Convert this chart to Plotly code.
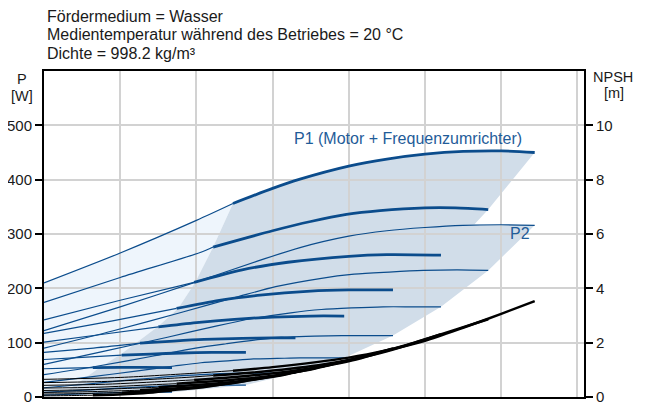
import plotly.graph_objects as go

# ---------------- text ----------------
title_lines = ["Fördermedium = Wasser",
               "Medientemperatur während des Betriebes = 20 °C",
               "Dichte = 998.2 kg/m³"]
p_ticks = [0, 100, 200, 300, 400, 500]
npsh_ticks = [0, 2, 4, 6, 8, 10]

# thick (operating range) start per speed curve: 100%,90%,80%,70%,60%,50%,40%,min
thick_start = [2.48, 2.22, 1.97, 1.74, 1.50, 1.26, 1.02, 0.64]

# ---------------- P1 curves (Motor + Frequenzumrichter) [W] ----------------
p1_100_x = [0, 1, 2, 2.48, 3, 3.36, 4, 4.5, 5, 5.5, 6, 6.44]
p1_100_y = [210, 265, 325, 356, 384, 401, 425, 438, 447, 452, 453, 450]
p1_90_x = [0, 1, 2.05, 2.22, 3, 3.5, 3.97, 4.41, 5.0, 5.4, 5.83]
p1_90_y = [174, 220, 266, 276, 306, 323, 336, 343, 348, 348, 345]
p1_80_x = [0, 1, 1.97, 2.6, 3.2, 4.0, 4.5, 5.21]
p1_80_y = [142, 178, 211, 234, 248, 259, 262, 261]
p1_70_x = [0, 0.9, 1.74, 2.3, 2.8, 3.5, 4.0, 4.58]
p1_70_y = [117, 140, 163, 178, 187, 195, 197, 197]
p1_60_x = [0, 0.75, 1.50, 2.0, 2.5, 3.0, 3.5, 3.94]
p1_60_y = [101, 115, 129, 137, 143, 147, 149, 149]
p1_50_x = [0, 0.65, 1.26, 1.7, 2.1, 2.6, 3.0, 3.30]
p1_50_y = [82, 90, 99, 103, 106, 108, 109, 109]
p1_40_x = [0, 0.5, 1.02, 1.4, 1.8, 2.2, 2.65]
p1_40_y = [69, 73, 77, 79, 81, 82, 82]
p1_min_x = [0, 0.32, 0.64, 1.0, 1.3, 1.68]
p1_min_y = [52, 53, 54, 54.5, 54.5, 54]

# ---------------- P2 curves [W] ----------------
p2_100_x = [0, 1, 2, 2.8, 3.36, 4, 4.5, 5, 5.5, 6, 6.44]
p2_100_y = [122, 166, 212, 250, 275, 296, 306, 312, 316, 317, 316]
p2_90_x = [0, 0.91, 1.81, 2.53, 3.04, 3.62, 4.07, 4.53, 4.98, 5.43, 5.83]
p2_90_y = [90, 122, 156, 184, 203, 218, 226, 230, 233, 234, 233]
p2_80_x = [0, 0.81, 1.62, 2.27, 2.72, 3.24, 3.64, 4.04, 4.45, 4.86, 5.21]
p2_80_y = [60, 85, 110, 131, 144, 155, 161, 164, 166, 166, 166]
p2_70_x = [0, 0.71, 1.42, 1.99, 2.39, 2.84, 3.20, 3.55, 3.91, 4.27, 4.58]
p2_70_y = [41, 57, 75, 90, 98, 106, 110, 112, 113, 113, 113]
p2_60_x = [0, 0.61, 1.23, 1.71, 2.06, 2.45, 2.75, 3.06, 3.36, 3.67, 3.94]
p2_60_y = [27, 37, 48, 57, 63, 67, 70, 71, 72, 72, 72]
p2_50_x = [0, 0.51, 1.03, 1.44, 1.72, 2.05, 2.31, 2.56, 2.82, 3.08, 3.30]
p2_50_y = [17, 23, 30, 35, 38.5, 41, 43, 44, 44, 44, 44]
p2_40_x = [0, 0.41, 0.82, 1.15, 1.38, 1.65, 1.85, 2.06, 2.26, 2.47, 2.65]
p2_40_y = [8.5, 11.6, 15, 17.5, 19, 21, 21.5, 22, 22, 22, 22]
p2_min_x = [0, 0.26, 0.52, 0.73, 0.88, 1.04, 1.17, 1.30, 1.43, 1.57, 1.68]
p2_min_y = [3.4, 4.6, 5.9, 7, 7.7, 8.3, 8.6, 8.7, 8.8, 8.9, 8.8]

# ---------------- NPSH curves [m] ----------------
n_100_x = [0, 1, 2, 2.48, 3, 4, 4.5, 5, 5.5, 6, 6.44]
n_100_y = [0.65, 0.72, 0.88, 0.97, 1.10, 1.45, 1.72, 2.07, 2.55, 3.06, 3.53]
n_90_x = [0, 0.9, 1.8, 2.22, 2.7, 3.6, 4.05, 4.5, 4.95, 5.4, 5.83]
n_90_y = [0.53, 0.58, 0.71, 0.79, 0.89, 1.17, 1.39, 1.68, 2.07, 2.48, 2.86]
n_80_x = [0, 0.81, 1.62, 1.97, 2.43, 3.24, 3.64, 4.05, 4.45, 4.86, 5.21]
n_80_y = [0.43, 0.47, 0.58, 0.63, 0.72, 0.95, 1.12, 1.35, 1.67, 2.0, 2.31]
n_70_x = [0, 0.71, 1.42, 1.74, 2.13, 2.84, 3.20, 3.56, 3.91, 4.27, 4.58]
n_70_y = [0.33, 0.36, 0.45, 0.49, 0.56, 0.73, 0.87, 1.05, 1.29, 1.55, 1.79]
n_60_x = [0, 0.61, 1.22, 1.50, 1.84, 2.45, 2.75, 3.06, 3.37, 3.67, 3.94]
n_60_y = [0.24, 0.27, 0.33, 0.36, 0.41, 0.54, 0.64, 0.77, 0.95, 1.14, 1.32]
n_50_x = [0, 0.51, 1.02, 1.26, 1.54, 2.05, 2.31, 2.56, 2.82, 3.08, 3.30]
n_50_y = [0.17, 0.19, 0.23, 0.25, 0.29, 0.38, 0.45, 0.54, 0.67, 0.80, 0.92]
n_40_x = [0, 0.41, 0.82, 1.02, 1.23, 1.65, 1.85, 2.06, 2.26, 2.47, 2.65]
n_40_y = [0.11, 0.12, 0.15, 0.16, 0.19, 0.25, 0.29, 0.35, 0.43, 0.52, 0.60]
n_min_x = [0, 0.26, 0.52, 0.64, 0.78, 1.04, 1.17, 1.30, 1.43, 1.57, 1.68]
n_min_y = [0.044, 0.049, 0.06, 0.066, 0.075, 0.099, 0.117, 0.14, 0.17, 0.21, 0.24]

# ---------------- operating range boundary ----------------
edge_x = [0.2, 0.45, 0.69, 1.02, 1.26, 1.5, 1.76, 1.98, 2.22, 2.48]
edge_p = [2, 26, 50, 80, 105, 130, 163, 210, 276, 356]
notch_x, notch_p = 5.65, 318

p1_curves = [(p1_100_x, p1_100_y), (p1_90_x, p1_90_y), (p1_80_x, p1_80_y), (p1_70_x, p1_70_y),
             (p1_60_x, p1_60_y), (p1_50_x, p1_50_y), (p1_40_x, p1_40_y), (p1_min_x, p1_min_y)]
p2_curves = [(p2_100_x, p2_100_y), (p2_90_x, p2_90_y), (p2_80_x, p2_80_y), (p2_70_x, p2_70_y),
             (p2_60_x, p2_60_y), (p2_50_x, p2_50_y), (p2_40_x, p2_40_y), (p2_min_x, p2_min_y)]
n_curves = [(n_100_x, n_100_y), (n_90_x, n_90_y), (n_80_x, n_80_y), (n_70_x, n_70_y),
            (n_60_x, n_60_y), (n_50_x, n_50_y), (n_40_x, n_40_y), (n_min_x, n_min_y)]

BLUE = "#0b4c8c"
TXT_BLUE = "#1f5c99"
FONT = "Arial, 'Liberation Sans', sans-serif"

# page offset of the figure (default body margin of the html page)
OFF = 8
PL, PR, PT, PB = 44 - OFF, 584 - OFF, 71 - OFF, 397 - OFF  # plot area edges in figure px
W, H = 649, 403
PW, PH = PR - PL, PB - PT

fig = go.Figure()


def path(points):
    return "M " + " L ".join(f"{x},{y}" for x, y in points) + " Z"


# light region (left of operating range, under top P1 curve)
light = [(0, 0)]
light += [(x, y) for x, y in zip(p1_100_x, p1_100_y) if x <= thick_start[0]]
light += list(zip(edge_x, edge_p))[::-1][1:]
light += [(edge_x[0], 0)]

# dark region (operating range P1 and P2)
dark = list(zip(edge_x, edge_p))
dark += [(x, y) for x, y in zip(p1_100_x, p1_100_y) if x > thick_start[0]]
dark += [(p1_90_x[-1], p1_90_y[-1]), (notch_x, notch_p)]
dark += [(x, y) for x, y in zip(p2_100_x, p2_100_y) if x > notch_x]
for cx, cy in p2_curves[1:]:
    dark.append((cx[-1], cy[-1]))
dark += [(x, y) for x, y in zip(p2_min_x, p2_min_y) if 0 < x < p2_min_x[-1]][::-1]

shapes = [
    dict(type="path", path=path(light), xref="x", yref="y", layer="below",
         fillcolor="#eef5fc", line=dict(width=0)),
    dict(type="path", path=path(dark), xref="x", yref="y", layer="below",
         fillcolor="#d1dde9", line=dict(width=0)),
]


def add_split(x, y, xs, color, w_thin, w_thick, yaxis="y"):
    tx = [a for a in x if a <= xs]
    ty = [b for a, b in zip(x, y) if a <= xs]
    kx = [a for a in x if a >= xs]
    ky = [b for a, b in zip(x, y) if a >= xs]
    for xx, yy, w in ((tx, ty, w_thin), (kx, ky, w_thick)):
        fig.add_trace(go.Scatter(x=xx, y=yy, mode="lines", yaxis=yaxis,
                                 line=dict(color=color, width=w, shape="spline", smoothing=0.8),
                                 hoverinfo="skip", showlegend=False))


# NPSH curves (black)
for (cx, cy), xs in zip(n_curves, thick_start):
    add_split(cx, cy, xs, "#000000", 1.0, 2.5, yaxis="y2")

# P2 curves (thin blue)
for cx, cy in p2_curves:
    fig.add_trace(go.Scatter(x=cx, y=cy, mode="lines",
                             line=dict(color=BLUE, width=1.2, shape="spline", smoothing=0.8),
                             hoverinfo="skip", showlegend=False))

# P1 curves (thin left, thick in operating range)
for (cx, cy), xs in zip(p1_curves, thick_start):
    add_split(cx, cy, xs, BLUE, 1.2, 2.8)


def px2paper(px, py):
    """page pixel position -> paper coordinates"""
    return (px - OFF - PL) / PW, (PB - (py - OFF)) / PH


annotations = []
for text, py in zip(title_lines, [16, 34.5, 53]):
    ax, ay = px2paper(45, py)
    annotations.append(dict(text=text, xref="paper", yref="paper", x=ax, y=ay,
                            xanchor="left", yanchor="middle", showarrow=False,
                            font=dict(size=16, color="#1a1a1a", family=FONT)))
for text, px, py in [("P", 22, 79), ("[W]", 22, 95.5), ("NPSH", 613, 77), ("[m]", 614, 93)]:
    ax, ay = px2paper(px, py)
    annotations.append(dict(text=text, xref="paper", yref="paper", x=ax, y=ay,
                            xanchor="center", yanchor="middle", showarrow=False,
                            font=dict(size=14.5, color="#1a1a1a", family=FONT)))
annotations.append(dict(text="P1 (Motor + Frequenzumrichter)", x=4.78, y=475, xref="x", yref="y",
                        showarrow=False, font=dict(size=16, color=TXT_BLUE, family=FONT)))
annotations.append(dict(text="P2", x=6.25, y=301, xref="x", yref="y",
                        showarrow=False, font=dict(size=16, color=TXT_BLUE, family=FONT)))

fig.update_layout(
    width=W, height=H,
    margin=dict(l=PL, r=W - PR, t=PT, b=H - PB, autoexpand=False),
    paper_bgcolor="white", plot_bgcolor="white",
    showlegend=False,
    font=dict(family=FONT, size=15, color="#1a1a1a"),
    shapes=shapes, annotations=annotations,
    xaxis=dict(range=[0, 7.087], tick0=0, dtick=1, showticklabels=False, ticks="",
               showgrid=True, gridcolor="#d2d2d2", gridwidth=1.5, zeroline=False,
               showline=True, linecolor="black", linewidth=2, mirror=True, automargin=False),
    yaxis=dict(range=[0, 600], tickvals=p_ticks, ticks="outside", ticklen=7, tickwidth=2,
               tickcolor="black", showgrid=True, gridcolor="#d2d2d2", gridwidth=1.5,
               zeroline=False, showline=True, linecolor="black", linewidth=2, mirror=True,
               automargin=False, tickfont=dict(size=15, family=FONT, color="#1a1a1a")),
    yaxis2=dict(range=[0, 12], tickvals=npsh_ticks, overlaying="y", side="right",
                ticks="outside", ticklen=7, tickwidth=2, tickcolor="black", showgrid=False,
                zeroline=False, showline=True, linecolor="black", linewidth=2, automargin=False,
                tickfont=dict(size=15, family=FONT, color="#1a1a1a")),
)

fig.write_html("out.html")
